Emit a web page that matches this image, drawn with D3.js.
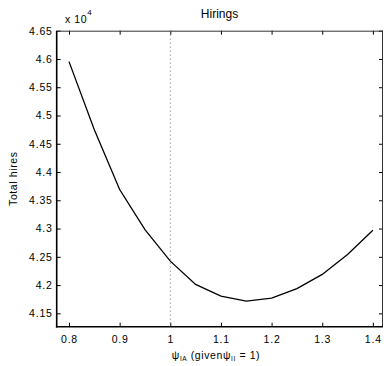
<!DOCTYPE html>
<html>
<head>
<meta charset="utf-8">
<script src="https://cdn.jsdelivr.net/npm/d3@7"></script>
<style>
  body { margin: 0; background: #fff; }
  svg text { font-family: "Liberation Sans", Arial, sans-serif; fill: #000; }
</style>
</head>
<body>
<div id="chart"></div>
<script>
// psi_IA values and total hires (in units of 10^4)
var psiValues = [0.8, 0.85, 0.9, 0.95, 1.0, 1.05, 1.1, 1.15, 1.2, 1.25, 1.3, 1.35, 1.4];
var totalHires = [4.5953, 4.4748, 4.3690, 4.2980, 4.2424, 4.2012, 4.1806, 4.1718, 4.1771, 4.1937, 4.2189, 4.2542, 4.2970];
var xTicks = [0.8, 0.9, 1.0, 1.1, 1.2, 1.3, 1.4];
var yTicks = [4.15, 4.2, 4.25, 4.3, 4.35, 4.4, 4.45, 4.5, 4.55, 4.6, 4.65];
var refLine = 1.0;

var width = 384, height = 366;
var plotL = 56.7, plotR = 383, plotT = 30.7, plotB = 326.7;

var svg = d3.select('#chart').append('svg')
            .attr('width', width)
            .attr('height', height);

var x = d3.scaleLinear().domain([0.7757, 1.42]).range([plotL, plotR]);
var y = d3.scaleLinear().domain([4.1264, 4.65]).range([plotB, plotT]);

var fmt = function(d){ return String(+d.toFixed(2)); };

// bottom axis
svg.append('g')
   .attr('transform', 'translate(0,' + plotB + ')')
   .call(d3.axisBottom(x).tickValues(xTicks).tickSize(-4).tickPadding(9).tickFormat(fmt));
// left axis
svg.append('g')
   .attr('transform', 'translate(' + plotL + ',0)')
   .call(d3.axisLeft(y).tickValues(yTicks).tickSize(-4).tickPadding(4).tickFormat(fmt));
// mirrored top/right ticks
svg.append('g')
   .attr('transform', 'translate(0,' + plotT + ')')
   .call(d3.axisTop(x).tickValues(xTicks).tickSize(-4).tickFormat(''));
svg.append('g')
   .attr('transform', 'translate(' + plotR + ',0)')
   .call(d3.axisRight(y).tickValues(yTicks).tickSize(-4).tickFormat(''));

svg.selectAll('.domain').remove();
svg.selectAll('.tick line').attr('stroke', '#000').attr('stroke-width', 1);
svg.selectAll('.tick text')
   .style('font-size', '10.5px')
   .style('letter-spacing', '0.8px');

// box
svg.append('line').attr('x1', plotL).attr('x2', plotR).attr('y1', plotT + 0.5).attr('y2', plotT + 0.5)
   .attr('stroke', '#333').attr('stroke-width', 1);
svg.append('line').attr('x1', plotR - 0.5).attr('x2', plotR - 0.5).attr('y1', plotT).attr('y2', plotB)
   .attr('stroke', '#333').attr('stroke-width', 1);
svg.append('line').attr('x1', plotL).attr('x2', plotL).attr('y1', plotT).attr('y2', plotB + 0.8)
   .attr('stroke', '#000').attr('stroke-width', 1.6);
svg.append('line').attr('x1', plotL - 0.8).attr('x2', plotR).attr('y1', plotB).attr('y2', plotB)
   .attr('stroke', '#000').attr('stroke-width', 1.6);

// dotted reference line
svg.append('line')
   .attr('x1', x(refLine)).attr('x2', x(refLine))
   .attr('y1', plotT).attr('y2', plotB)
   .attr('stroke', '#777').attr('stroke-width', 1)
   .attr('stroke-dasharray', '1,3');

// data line
var line = d3.line()
   .x(function(d, i){ return x(psiValues[i]); })
   .y(function(d){ return y(d); });
svg.append('path')
   .datum(totalHires)
   .attr('d', line)
   .attr('fill', 'none')
   .attr('stroke', '#000')
   .attr('stroke-width', 1.3);

// title
svg.append('text')
   .attr('x', 219.5).attr('y', 18)
   .attr('text-anchor', 'middle')
   .style('font-size', '12px')
   .text('Hirings');

// exponent label
var expo = svg.append('text')
   .attr('x', 65).attr('y', 23)
   .style('font-size', '10.5px')
   .style('letter-spacing', '0.6px');
expo.append('tspan').text('x 10');
expo.append('tspan').attr('dy', -8).style('font-size', '8px').text('4');

// y label
svg.append('text')
   .attr('transform', 'translate(17,178.7) rotate(-90)')
   .attr('text-anchor', 'middle')
   .style('font-size', '10.5px')
   .style('letter-spacing', '0.6px')
   .text('Total hires');

// x label
var xl = svg.append('text')
   .attr('x', 216).attr('y', 359)
   .attr('text-anchor', 'middle')
   .style('font-size', '10.5px')
   .style('letter-spacing', '0.6px');
xl.append('tspan').text('\u03C8');
xl.append('tspan').attr('dy', 2).style('font-size', '6.5px').text('IA');
xl.append('tspan').attr('dy', -2).text(' (given\u03C8');
xl.append('tspan').attr('dy', 2).style('font-size', '6.5px').text('II');
xl.append('tspan').attr('dy', -2).text(' = 1)');
</script>
</body>
</html>
